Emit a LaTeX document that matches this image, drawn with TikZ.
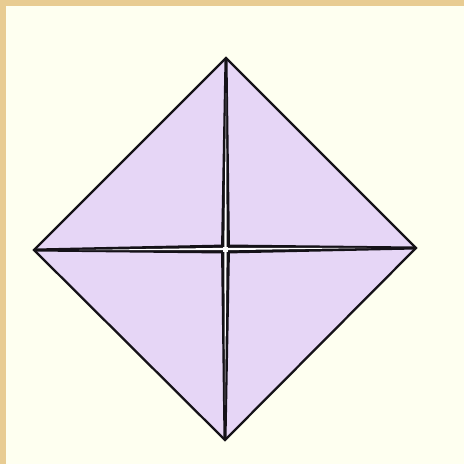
\documentclass[tikz,border=0pt]{standalone}
\usepackage{tikz}
\usetikzlibrary{calc}
\usepackage{xcolor}
\definecolor{Tan}{HTML}{E8CC92}
\definecolor{Cream}{HTML}{FEFFF0}
\definecolor{Lilac}{HTML}{E6D6F6}
\definecolor{Ink}{HTML}{151218}

\begin{document}
\begin{tikzpicture}[
  x=0.02cm, y=-0.02cm,
  sheet/.style={fill=Lilac, draw=Ink, line width=1.3pt, line join=miter},
  crease/.style={draw=Ink, fill=Ink, line width=1.7pt},
  gap/.style={fill=white}
]
% frame
\fill[Tan] (0,0) rectangle (464,464);
\fill[Cream] (6,6) rectangle (464,464);
\useasboundingbox (0,0) rectangle (464,464);

\coordinate (top) at (226,58);
\coordinate (left) at (34,250);
\coordinate (right) at (416,248);
\coordinate (bottom) at (225,440);
\coordinate (mid) at (225.5,249);

\draw[sheet] (top) -- (right) -- (bottom) -- (left) -- cycle;

% folds
\filldraw[crease] (top) -- ($(mid)+(3,0)$) -- (bottom) -- ($(mid)+(-3,0)$) -- cycle;
\filldraw[crease] (left) -- ($(mid)+(0,3)$) -- (right) -- ($(mid)+(0,-3)$) -- cycle;
\fill[gap] ($(top)+(0,35)$) -- ($(mid)+(1.2,0)$) -- ($(bottom)+(0,-35)$) -- ($(mid)+(-1.2,0)$) -- cycle;
\fill[gap] ($(left)+(45,0)$) -- ($(mid)+(0,1.2)$) -- ($(right)+(-45,0)$) -- ($(mid)+(0,-1.2)$) -- cycle;
\fill[gap] ($(mid)+(-2.5,-2.5)$) rectangle ($(mid)+(2.5,2.5)$);
\end{tikzpicture}
\end{document}
